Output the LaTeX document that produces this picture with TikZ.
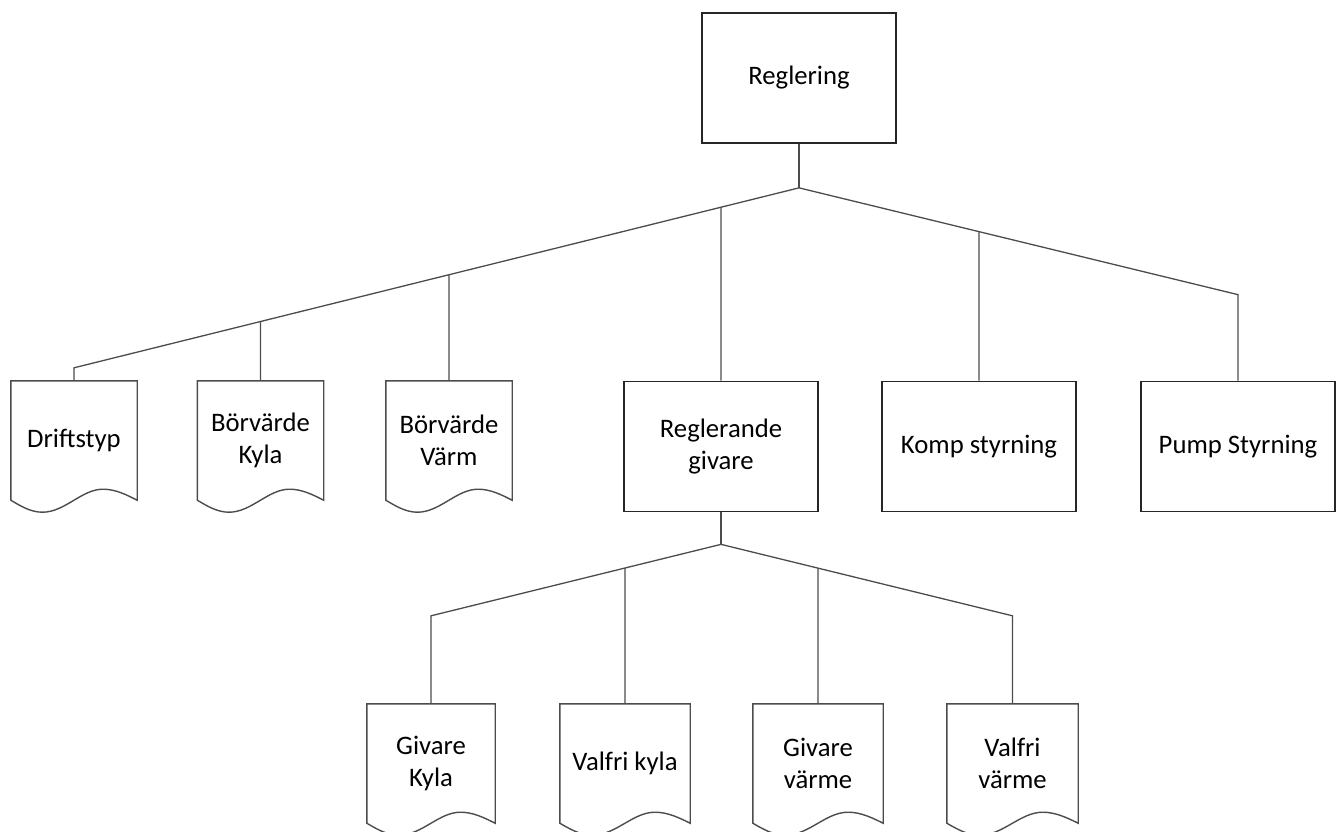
\documentclass[tikz,border=0pt]{standalone}
\usepackage{fontspec}
\setmainfont{Carlito}
\usetikzlibrary{calc}
\begin{document}
\begin{tikzpicture}[x=1pt,y=-1pt,
  every node/.style={font=\fontsize{26.7}{32.5}\selectfont, align=center, inner sep=0pt},
  procbox/.style={draw=black!85, line width=1.7pt, minimum width=194pt, minimum height=130pt},
  docnode/.style={minimum width=126pt, minimum height=119pt},
  docline/.style={draw=black!70, line width=1.4pt, line join=miter},
  link/.style={draw=black!70, line width=1.3pt}]
\useasboundingbox (0,0) rectangle (1337,831);

% process boxes
\node[procbox] (root)  at (799,78)    {Reglering};
\node[procbox] (regiv) at (721,446.5) {Reglerande\\givare};
\node[procbox] (komp)  at (979,446.5) {Komp styrning};
\node[procbox] (pump)  at (1238,446.5) {Pump Styrning};

% document nodes (outlines drawn below)
\node[docnode] (drift)  at (74,440.5)  {Driftstyp};
\node[docnode] (bkyla)  at (260.5,440.5) {Börvärde\\Kyla};
\node[docnode] (bvarm)  at (449,440.5) {Börvärde\\Värm};
\node[docnode, minimum width=128pt] (gkyla)  at (431,763.5)  {Givare\\Kyla};
\node[docnode, minimum width=130pt] (vkyla)  at (625,763.5)  {Valfri kyla};
\node[docnode, minimum width=130pt] (gvarme) at (818,763.5)  {Givare\\värme};
\node[docnode, minimum width=131pt] (vvarme) at (1012.5,763.5) {Valfri\\värme};

% document outlines with wavy bottom edge
\foreach \n in {drift,bkyla,bvarm,gkyla,vkyla,gvarme,vvarme}
  \draw[docline] (\n.south west) -- (\n.north west) -- (\n.north east) -- (\n.south east)
    sin ($(\n.south east)!0.27!(\n.south west)+(0,-11)$)
    cos ($(\n.south east)!0.5!(\n.south west)$)
    sin ($(\n.south east)!0.75!(\n.south west)+(0,12)$)
    cos (\n.south west) -- cycle;

% upper tree
\coordinate (j1) at ($(root.south)+(0,44)$);
\coordinate (l1) at ($(drift.north)+(0,-13)$);
\coordinate (r1) at ($(pump.north)+(0,-86)$);
\draw[link] (root.south) -- (j1);
\draw[link] (j1) -- (l1) -- (drift.north);
\draw[link] (j1) -- (r1) -- (pump.north);
\draw[link] (bkyla.north) -- (intersection of j1--l1 and bkyla.north--bkyla.center);
\draw[link] (bvarm.north) -- (intersection of j1--l1 and bvarm.north--bvarm.center);
\draw[link] (regiv.north) -- (intersection of j1--l1 and regiv.north--regiv.center);
\draw[link] (komp.north)  -- (intersection of j1--r1 and komp.north--komp.center);

% lower tree
\coordinate (j2) at ($(regiv.south)+(0,32)$);
\coordinate (l2) at ($(gkyla.north)+(0,-88)$);
\coordinate (r2) at ($(vvarme.north)+(0,-88)$);
\draw[link] (regiv.south) -- (j2);
\draw[link] (j2) -- (l2) -- (gkyla.north);
\draw[link] (j2) -- (r2) -- (vvarme.north);
\draw[link] (vkyla.north)  -- (intersection of j2--l2 and vkyla.north--vkyla.center);
\draw[link] (gvarme.north) -- (intersection of j2--r2 and gvarme.north--gvarme.center);
\end{tikzpicture}
\end{document}
